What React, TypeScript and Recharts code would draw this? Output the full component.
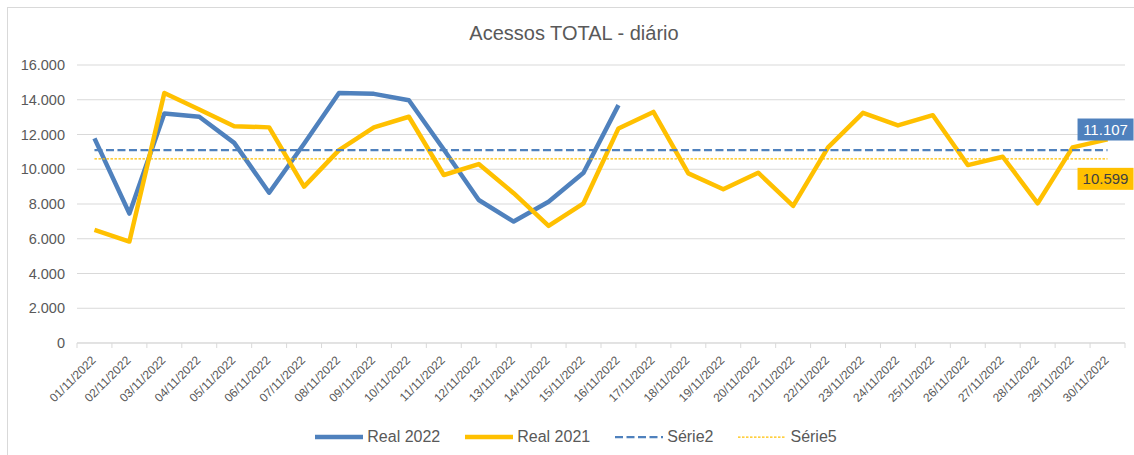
import React from 'react';
import { LineChart, Line, XAxis, YAxis, CartesianGrid } from 'recharts';

const CATEGORIES = [
  '01/11/2022', '02/11/2022', '03/11/2022', '04/11/2022', '05/11/2022', '06/11/2022',
  '07/11/2022', '08/11/2022', '09/11/2022', '10/11/2022', '11/11/2022', '12/11/2022',
  '13/11/2022', '14/11/2022', '15/11/2022', '16/11/2022', '17/11/2022', '18/11/2022',
  '19/11/2022', '20/11/2022', '21/11/2022', '22/11/2022', '23/11/2022', '24/11/2022',
  '25/11/2022', '26/11/2022', '27/11/2022', '28/11/2022', '29/11/2022', '30/11/2022',
];

const REAL_2022 = [
  11780, 7450, 13210, 13020, 11520, 8650, 11470, 14390, 14340, 13970, 11140, 8230,
  6990, 8130, 9800, 13690,
];

const REAL_2021 = [
  6510, 5840, 14390, 13440, 12480, 12410, 9000, 11100, 12410, 13020, 9670, 10300,
  8620, 6740, 8040, 12350, 13300, 9760, 8850, 9800, 7890, 11260, 13250, 12520,
  13110, 10240, 10720, 8040, 11260, 11720,
];

const SERIE2_AVG = 11107;
const SERIE5_AVG = 10599;

const Y_TICKS = [0, 2000, 4000, 6000, 8000, 10000, 12000, 14000, 16000];

const BLUE = '#4F81BD';
const YELLOW = '#FFC000';
const TEXT = '#595959';
const GRID = '#D9D9D9';

const W = 1134;
const H = 455;
const MARGIN = { top: 65, right: 9, left: 0, bottom: 42 };
const Y_AXIS_W = 77;
const PLOT_W = W - MARGIN.left - MARGIN.right - Y_AXIS_W;
const BAND = PLOT_W / CATEGORIES.length;

const data = CATEGORIES.map((c, i) => ({
  date: c,
  real2022: i < REAL_2022.length ? REAL_2022[i] : null,
  real2021: REAL_2021[i],
  serie2: SERIE2_AVG,
  serie5: SERIE5_AVG,
}));

const fmt = (n: number) =>
  String(Math.round(n)).replace(/\B(?=(\d{3})+(?!\d))/g, '.');

const XTick = (props: any) => {
  const { x, y, payload, index } = props;
  const tx = x + 2;
  const ty = y + 18;
  return (
    <g>
      <line x1={x - BAND / 2} y1={y} x2={x - BAND / 2} y2={y + 5} stroke={GRID} />
      {index === CATEGORIES.length - 1 && (
        <line x1={x + BAND / 2} y1={y} x2={x + BAND / 2} y2={y + 5} stroke={GRID} />
      )}
      <text
        x={tx}
        y={ty}
        transform={`rotate(-45, ${tx}, ${ty})`}
        textAnchor="end"
        fontSize={12}
        fill={TEXT}
      >
        {payload.value}
      </text>
    </g>
  );
};

const makeEndLabel = (bg: string, fg: string, above: boolean) => (props: any) => {
  const { x, y, index, value } = props;
  if (index !== CATEGORIES.length - 1 || x == null || y == null) return null;
  const bw = 56;
  const bh = 22;
  const ry = above ? y - 31.5 : y + 9;
  const rx = x - 30;
  return (
    <g>
      <rect x={rx} y={ry} width={bw} height={bh} fill={bg} />
      <text
        x={rx + bw / 2}
        y={ry + bh / 2 + 5.5}
        textAnchor="middle"
        fontSize={15}
        fill={fg}
      >
        {fmt(value)}
      </text>
    </g>
  );
};

const LegendItem = ({ color, width, dash, label }: any) => (
  <div style={{ display: 'flex', alignItems: 'center', marginRight: 25 }}>
    <svg width={48} height={16} style={{ marginRight: 4 }}>
      <line
        x1={0}
        y1={8}
        x2={48}
        y2={8}
        stroke={color}
        strokeWidth={width}
        strokeDasharray={dash}
        strokeLinecap={dash ? 'butt' : 'round'}
      />
    </svg>
    <span>{label}</span>
  </div>
);

export default function App() {
  return (
    <div
      style={{
        position: 'absolute',
        left: 0,
        top: 0,
        width: W,
        height: H,
        background: '#fff',
        overflow: 'hidden',
        fontFamily: '"Liberation Sans", Arial, sans-serif',
      }}
    >
      <div
        style={{
          position: 'absolute',
          left: 7,
          top: 7,
          width: W + 20,
          height: H + 20,
          border: `1px solid ${GRID}`,
        }}
      />
      <div
        style={{
          position: 'absolute',
          left: 0,
          top: 23,
          width: 1148,
          textAlign: 'center',
          fontSize: 20,
          lineHeight: '20px',
          color: TEXT,
        }}
      >
        Acessos TOTAL - diário
      </div>
      <div style={{ position: 'absolute', left: 0, top: 0 }}>
        <LineChart width={W} height={H} data={data} margin={MARGIN}>
          <CartesianGrid vertical={false} stroke={GRID} />
          <XAxis
            dataKey="date"
            interval={0}
            height={70}
            tickSize={0}
            tickMargin={0}
            padding={{ left: BAND / 2, right: BAND / 2 }}
            axisLine={{ stroke: GRID }}
            tickLine={false}
            tick={<XTick />}
          />
          <YAxis
            width={Y_AXIS_W}
            domain={[0, 16000]}
            ticks={Y_TICKS}
            interval={0}
            axisLine={false}
            tickLine={false}
            tickSize={0}
            tickMargin={12}
            tickFormatter={fmt}
            tick={{ fill: TEXT, fontSize: 14.5 }}
          />
          <Line
            dataKey="real2022"
            name="Real 2022"
            stroke={BLUE}
            strokeWidth={4.5}
            dot={false}
            activeDot={false}
            isAnimationActive={false}
            connectNulls={false}
            strokeLinejoin="round"
          />
          <Line
            dataKey="real2021"
            name="Real 2021"
            stroke={YELLOW}
            strokeWidth={4.5}
            dot={false}
            activeDot={false}
            isAnimationActive={false}
            strokeLinejoin="round"
          />
          <Line
            dataKey="serie2"
            name="Série2"
            stroke={BLUE}
            strokeWidth={2.25}
            strokeDasharray="8 3.5"
            dot={false}
            activeDot={false}
            isAnimationActive={false}
            label={makeEndLabel(BLUE, '#FFFFFF', true)}
          />
          <Line
            dataKey="serie5"
            name="Série5"
            stroke={YELLOW}
            strokeWidth={1.25}
            strokeDasharray="2.5 1.5"
            dot={false}
            activeDot={false}
            isAnimationActive={false}
            label={makeEndLabel(YELLOW, '#404040', false)}
          />
        </LineChart>
      </div>
      <div
        style={{
          position: 'absolute',
          left: 0,
          top: 429,
          width: 1177,
          display: 'flex',
          justifyContent: 'center',
          fontSize: 16,
          lineHeight: '16px',
          color: TEXT,
        }}
      >
        <LegendItem color={BLUE} width={4.5} label="Real 2022" />
        <LegendItem color={YELLOW} width={4.5} label="Real 2021" />
        <LegendItem color={BLUE} width={2.25} dash="8 3.5" label="Série2" />
        <LegendItem color={YELLOW} width={1.25} dash="2.5 1.5" label="Série5" />
      </div>
    </div>
  );
}
